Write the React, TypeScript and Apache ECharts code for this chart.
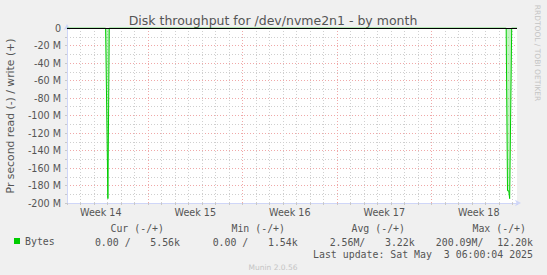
import React, { useEffect, useRef } from 'react';
import * as echarts from 'echarts';

// ---- texts ----
const TITLE = 'Disk throughput for /dev/nvme2n1 - by month';
const Y_TITLE = 'Pr second read (-) / write (+)';
const SIDE_TEXT = 'RRDTOOL / TOBI OETIKER';
const FOOTER = 'Munin 2.0.56';
const LAST_UPDATE = 'Last update: Sat May  3 06:00:04 2025';
const SERIES_NAME = 'Bytes';

// ---- x axis (days from left edge of the graph) ----
const spanDays = 33.333;
const weekLabels = ['Week 14', 'Week 15', 'Week 16', 'Week 17', 'Week 18'];
const weekCenterDays = [2.5, 9.5, 16.5, 23.5, 30.5];
const daysPerWeek = 7;
const firstWeekBoundaryDay = 6;

// ---- y axis (MB/s, read drawn negative) ----
const yMin = -200;
const yMax = 0;
const yMinorStep = 10;
const yLabelStep = 20;

// ---- series: read throughput (negative) ----
const readDays = [0, 2.86, 3.03, 3.13, 32.53, 32.63, 32.72, 32.79, 32.94, 33.333];
const readMBps = [0, 0, -195, 0, 0, -186, -186, -195, 0, 0];

// ---- legend statistics ----
const statHeaders = ['Cur (-/+)', 'Min (-/+)', 'Avg (-/+)', 'Max (-/+)'];
const statRead = ['0.00 /', '0.00 /', '2.56M/', '200.09M/'];
const statWrite = ['5.56k', '1.54k', '3.22k', '12.20k'];

const GRAY = '#cfcfcf';
const RED = '#f0a8a8';
const AXIS = '#CFD6F8';
const FONT = 'DejaVu Sans';
const MONO = 'DejaVu Sans Mono';
const TEXT = '#555555';

export default function App() {
  const ref = useRef<HTMLDivElement>(null);

  useEffect(() => {
    if (!ref.current) return;
    const chart = echarts.init(ref.current, undefined, { renderer: 'svg' });

    const xGridColors = Array.from({ length: daysPerWeek }, (_, i) =>
      i === firstWeekBoundaryDay % daysPerWeek ? RED : GRAY
    );
    const yGridColors = [RED, GRAY];

    const headerRight = [164, 285, 405, 526];
    const readRight = [130.6, 248.3, 365.3, 483.4];
    const writeRight = [180, 297.7, 414.7, 533];
    const statY = 228.6;
    const valY = 242;

    const graphics: any[] = [
      {
        type: 'text', x: 273, y: 20,
        style: { text: TITLE, align: 'center', verticalAlign: 'middle', font: `12.5px "${FONT}"`, fill: TEXT },
      },
      {
        type: 'text', x: 10, y: 116, rotation: Math.PI / 2,
        style: { text: Y_TITLE, align: 'center', verticalAlign: 'middle', font: `10.8px "${FONT}"`, fill: TEXT },
      },
      {
        type: 'text', x: 537, y: 53, rotation: -Math.PI / 2,
        style: { text: SIDE_TEXT, align: 'center', verticalAlign: 'middle', font: `7.5px "${FONT}"`, fill: '#c4c4c4' },
      },
      {
        type: 'text', x: 273, y: 267,
        style: { text: FOOTER, align: 'center', verticalAlign: 'middle', font: `7.5px "${FONT}"`, fill: '#c4c4c4' },
      },
      {
        type: 'text', x: 533, y: 254,
        style: { text: LAST_UPDATE, align: 'right', verticalAlign: 'middle', font: `9.9px "${MONO}"`, fill: TEXT },
      },
    ];
    statHeaders.forEach((h, i) => {
      graphics.push({
        type: 'text', x: headerRight[i], y: statY,
        style: { text: h, align: 'right', verticalAlign: 'middle', font: `9.9px "${MONO}"`, fill: TEXT },
      });
      graphics.push({
        type: 'text', x: readRight[i], y: valY,
        style: { text: statRead[i], align: 'right', verticalAlign: 'middle', font: `9.9px "${MONO}"`, fill: TEXT },
      });
      graphics.push({
        type: 'text', x: writeRight[i], y: valY,
        style: { text: statWrite[i], align: 'right', verticalAlign: 'middle', font: `9.9px "${MONO}"`, fill: TEXT },
      });
    });

    chart.setOption({
      animation: false,
      backgroundColor: '#F0F0F0',
      grid: {
        left: 67, top: 28, width: 450, height: 175,
        show: true, backgroundColor: '#ffffff', borderWidth: 0,
      },
      legend: {
        data: [{ name: SERIES_NAME, icon: 'rect' }],
        left: 14, top: 236, padding: 0,
        itemWidth: 6, itemHeight: 6,
        textStyle: { fontFamily: MONO, fontSize: 9.9, color: TEXT },
      },
      xAxis: [
        {
          type: 'value', min: 0, max: spanDays, interval: 1, position: 'bottom',
          axisLine: {
            show: true, onZero: false,
            lineStyle: { color: AXIS, width: 1 },
            symbol: ['none', 'arrow'], symbolSize: [5, 6], symbolOffset: [0, 4],
          },
          axisTick: { show: true, length: 2, lineStyle: { color: '#c8c8c8' } },
          axisLabel: { show: false },
          splitLine: {
            show: true, showMaxLine: false,
            lineStyle: { color: xGridColors, type: [1, 2], width: 1 },
          },
        },
        {
          type: 'value', min: 0, max: spanDays, interval: 0.5, position: 'bottom',
          axisLine: { show: false, onZero: false },
          axisTick: { show: false },
          splitLine: { show: false },
          axisLabel: {
            show: true, margin: 4,
            fontFamily: FONT, fontSize: 9.6, color: TEXT,
            formatter: (v: number) => {
              const idx = weekCenterDays.findIndex((c) => Math.abs(c - v) < 1e-6);
              return idx >= 0 ? weekLabels[idx] : '';
            },
          },
        },
      ],
      yAxis: {
        type: 'value', min: yMin, max: yMax, interval: yMinorStep,
        axisLine: {
          show: true, onZero: false,
          lineStyle: { color: AXIS, width: 1 },
          symbol: ['none', 'arrow'], symbolSize: [5, 6], symbolOffset: [0, 4],
        },
        axisTick: { show: true, length: 2, lineStyle: { color: '#c8c8c8' } },
        axisLabel: {
          margin: 6, fontFamily: FONT, fontSize: 9.6, color: TEXT,
          formatter: (v: number) => {
            if (v === 0) return '0';
            return Math.round(v) % yLabelStep === 0 ? `${v} M` : '';
          },
        },
        splitLine: {
          show: true,
          lineStyle: { color: yGridColors, type: [1, 2], width: 1 },
        },
      },
      series: [
        {
          name: SERIES_NAME,
          type: 'line',
          xAxisIndex: 0,
          data: readDays.map((d, i) => [d, readMBps[i]]),
          symbol: 'none',
          color: '#00CC00',
          lineStyle: { color: '#00CC00', width: 1 },
          areaStyle: { color: 'rgba(0,204,0,0.35)' },
          markLine: {
            silent: true,
            symbol: ['none', 'none'],
            label: { show: false },
            lineStyle: { color: '#000000', type: 'solid', width: 1 },
            data: [{ yAxis: 0 }],
          },
        },
      ],
      graphic: graphics,
    });

    return () => chart.dispose();
  }, []);

  return (
    <div
      ref={ref}
      style={{ position: 'fixed', left: 0, top: 0, width: 547, height: 275 }}
    />
  );
}
